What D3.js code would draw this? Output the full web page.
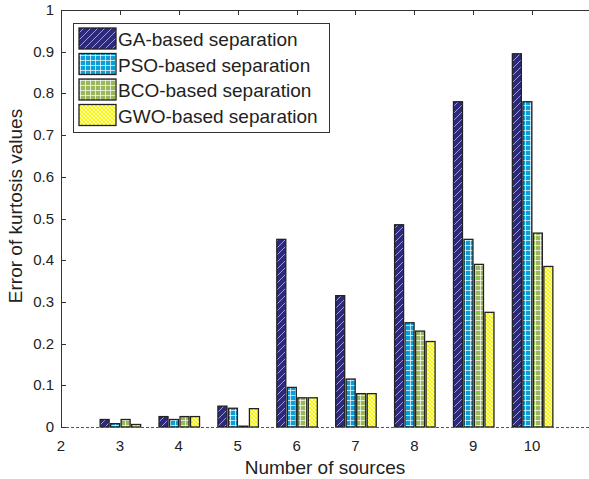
<!DOCTYPE html>
<html>
<head>
<meta charset="utf-8">
<script src="https://cdn.jsdelivr.net/npm/d3@7"></script>
<style>
  body { margin: 0; background: #fff; }
  text { font-family: "Liberation Sans", Arial, sans-serif; fill: #222; }
</style>
</head>
<body>
<svg id="chart" width="589" height="479"></svg>
<script>
// number of sources on x axis
var sources = [3, 4, 5, 6, 7, 8, 9, 10];
var seriesNames = ["GA-based separation", "PSO-based separation", "BCO-based separation", "GWO-based separation"];
var gaVals  = [0.018, 0.025, 0.050, 0.450, 0.315, 0.485, 0.780, 0.895];
var psoVals = [0.008, 0.018, 0.045, 0.095, 0.115, 0.250, 0.450, 0.780];
var bcoVals = [0.018, 0.025, 0.002, 0.070, 0.080, 0.230, 0.390, 0.465];
var gwoVals = [0.006, 0.025, 0.044, 0.070, 0.080, 0.205, 0.275, 0.385];
var xTicks = [2, 3, 4, 5, 6, 7, 8, 9, 10, 11];
var yTicks = [0, 0.1, 0.2, 0.3, 0.4, 0.5, 0.6, 0.7, 0.8, 0.9, 1];

drawChart();

function drawChart() {
  var allSeries = [gaVals, psoVals, bcoVals, gwoVals];
  var patIds = ["patGA", "patPSO", "patBCO", "patGWO"];

  var svg = d3.select("#chart");
  var pl = 61, pt = 10, pb = 427, pr = 591;

  var x = d3.scaleLinear().domain([2, 11]).range([pl, pr]);
  var y = d3.scaleLinear().domain([0, 1]).range([pb, pt]);

  // fill patterns
  var defs = svg.append("defs");
  var pGA = defs.append("pattern").attr("id", "patGA").attr("patternUnits", "userSpaceOnUse")
    .attr("width", 7).attr("height", 7);
  pGA.append("rect").attr("width", 7).attr("height", 7).attr("fill", "#2d2a7e");
  pGA.append("path").attr("d", "M-1,8 L8,-1 M-1,1 L1,-1 M6,8 L8,6")
    .attr("stroke", "#9f9bd6").attr("stroke-width", 1);

  function gridPattern(id, bg, step) {
    var p = defs.append("pattern").attr("id", id).attr("patternUnits", "userSpaceOnUse")
      .attr("width", step).attr("height", step);
    p.append("rect").attr("width", step).attr("height", step).attr("fill", bg);
    p.append("path").attr("d", "M0,0.5 H" + step + " M0.5,0 V" + step)
      .attr("stroke", "#ffffff").attr("stroke-opacity", 0.7).attr("stroke-width", 1);
  }
  gridPattern("patPSO", "#0c9ed6", 5);
  gridPattern("patBCO", "#9ab85a", 5);

  var pGWO = defs.append("pattern").attr("id", "patGWO").attr("patternUnits", "userSpaceOnUse")
    .attr("width", 4).attr("height", 4);
  pGWO.append("rect").attr("width", 4).attr("height", 4).attr("fill", "#f6f600");
  pGWO.append("path").attr("d", "M0,0 L4,4 M4,0 L0,4")
    .attr("stroke", "#ffffc0").attr("stroke-width", 0.9);

  // bars
  var bw = 9, gap = 10.5;
  allSeries.forEach(function(vals, s) {
    svg.append("g").selectAll("rect")
      .data(vals)
      .enter().append("rect")
      .attr("x", function(d, i) { return x(sources[i]) - 2 * gap + s * gap + (gap - bw) / 2 + 0.5; })
      .attr("y", function(d) { return y(d); })
      .attr("width", bw)
      .attr("height", function(d) { return y(0) - y(d); })
      .attr("fill", "url(#" + patIds[s] + ")")
      .attr("stroke", "#222")
      .attr("stroke-width", 1.3);
  });

  // axes box
  var axisColor = "#333";
  svg.append("line").attr("x1", pl + 0.5).attr("x2", pl + 0.5).attr("y1", pt).attr("y2", pb)
    .attr("stroke", axisColor);
  svg.append("line").attr("x1", pl).attr("x2", pr).attr("y1", pt + 0.5).attr("y2", pt + 0.5)
    .attr("stroke", axisColor);
  svg.append("line").attr("x1", pl).attr("x2", pr).attr("y1", pb + 0.5).attr("y2", pb + 0.5)
    .attr("stroke", "#555").attr("stroke-dasharray", "3,2");

  // y ticks
  svg.append("g").selectAll("line").data(yTicks).enter().append("line")
    .attr("x1", pl).attr("x2", pl + 5)
    .attr("y1", function(d) { return Math.round(y(d)) + 0.5; })
    .attr("y2", function(d) { return Math.round(y(d)) + 0.5; })
    .attr("stroke", axisColor);
  svg.append("g").selectAll("text").data(yTicks).enter().append("text")
    .attr("x", pl - 7)
    .attr("y", function(d) { return y(d) + 5; })
    .attr("text-anchor", "end")
    .attr("font-size", 15)
    .text(function(d) { return d3.format("")(d); });

  // x ticks (top, inward)
  svg.append("g").selectAll("line").data(xTicks).enter().append("line")
    .attr("x1", function(d) { return Math.round(x(d)) + 0.5; })
    .attr("x2", function(d) { return Math.round(x(d)) + 0.5; })
    .attr("y1", pt).attr("y2", pt + 5)
    .attr("stroke", axisColor);
  svg.append("g").selectAll("text").data(xTicks.slice(0, 9)).enter().append("text")
    .attr("x", function(d) { return x(d); })
    .attr("y", pb + 24)
    .attr("text-anchor", "middle")
    .attr("font-size", 15)
    .text(function(d) { return d; });

  // axis labels
  svg.append("text").attr("x", 325).attr("y", 474).attr("text-anchor", "middle")
    .attr("font-size", 19).text("Number of sources");
  svg.append("text").attr("transform", "translate(22,206) rotate(-90)")
    .attr("text-anchor", "middle").attr("font-size", 19).text("Error of kurtosis values");

  // legend
  var lg = svg.append("g");
  lg.append("rect").attr("x", 73.5).attr("y", 23.5).attr("width", 256).attr("height", 109)
    .attr("fill", "#fff").attr("stroke", "#333");
  seriesNames.forEach(function(name, i) {
    var yy = 28 + i * 25.5;
    lg.append("rect").attr("x", 79).attr("y", yy).attr("width", 37).attr("height", 21)
      .attr("fill", "url(#" + patIds[i] + ")").attr("stroke", "#222").attr("stroke-width", 1.3);
    lg.append("text").attr("x", 118).attr("y", yy + 18).attr("font-size", 19).text(name);
  });
}
</script>
</body>
</html>
